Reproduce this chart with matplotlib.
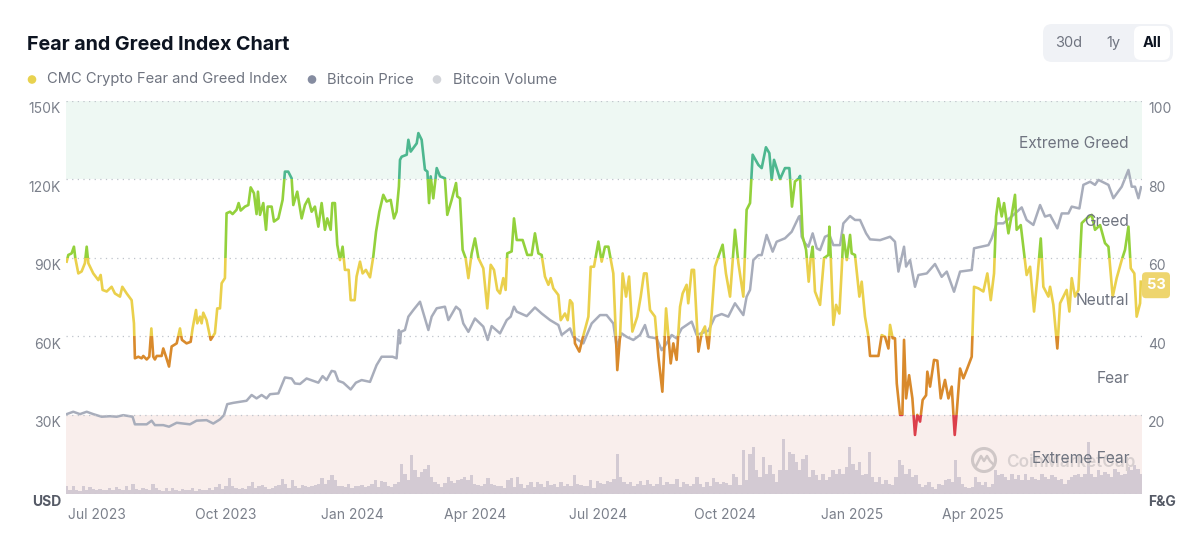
import numpy as np
import matplotlib
matplotlib.use("Agg")
import matplotlib.pyplot as plt
from matplotlib.patches import Circle, FancyBboxPatch, Rectangle
from matplotlib.transforms import ScaledTranslation

plt.rcParams["font.family"] = ["Inter", "DejaVu Sans"]

# x axis is days counted from the Jul 2023 label
tick_days = [3.6, 97.8, 189.8, 279.6, 369.3, 462, 554.7, 643]
tick_labels = ["Jul 2023", "Oct 2023", "Jan 2024", "Apr 2024", "Jul 2024", "Oct 2024", "Jan 2025", "Apr 2025"]

price_ticks = [0, 30, 60, 90, 120, 150]
price_labels = ["USD", "30K", "60K", "90K", "120K", "150K"]
fg_ticks = [0, 20, 40, 60, 80, 100]
fg_labels = ["F&G", "20", "40", "60", "80", "100"]

zone_names = ["Extreme Greed", "Greed", "Neutral", "Fear", "Extreme Fear"]
zone_label_values = [89.0, 69.2, 49.2, 29.2, 9.0]
zone_edges = [(80, 101), (60, 80), (40, 60), (20, 40), (0, 20)]
zone_colors = ["#4db78f", "#93d13c", "#ead04c", "#d98a2c", "#dc3f4b"]

fg_days = [
    -18.5, -17.3, -14.9, -13.2, -12.2, -10.0, -7.6, -5.2, -3.9, -2.7, 0.9, 4.6, 6.3, 7.7, 10.7, 14.3, 16.7, 20.4, 22.1, 25.3,
    28.9, 30.6, 31.3, 33.8, 36.2, 37.4, 39.9, 41.8, 43.3, 44.7, 45.9, 47.2, 50.8, 52.0, 54.0, 56.2, 58.1, 61.8, 64.2, 65.6,
    69.0, 72.0, 73.4, 75.9, 76.8, 78.8, 80.0, 81.2, 83.6, 86.6, 89.7, 91.4, 93.4, 94.6, 97.0, 98.2, 100.7, 102.6, 105.5, 107.0,
    108.5, 111.6, 114.1, 115.8, 118.2, 120.1, 121.1, 122.6, 125.0, 127.0, 128.2, 131.1, 132.8, 136.0, 139.1, 140.8, 143.2, 145.7, 146.9, 149.8,
    153.0, 155.4, 157.9, 160.3, 162.7, 165.2, 167.6, 170.0, 171.7, 174.2, 175.4, 177.3, 179.0, 181.0, 182.9, 184.6, 187.3, 188.8, 191.7, 193.1,
    195.6, 197.5, 199.9, 202.9, 205.3, 207.3, 209.7, 212.6, 215.0, 218.0, 220.4, 222.3, 224.0,
    224.8, 226.0, 229.7, 230.9, 232.6, 237.0, 238.2, 240.6, 243.0, 244.8, 246.0, 247.2, 249.1, 251.6, 254.0, 257.6, 259.3, 262.5, 265.7, 266.6,
    268.6, 270.5, 272.7, 274.7, 277.1, 279.5, 282.0, 285.6, 288.5, 291.0, 293.4, 295.8, 297.8, 300.2, 301.9, 303.1, 306.3, 308.0, 310.0, 314.3,
    317.7, 320.9, 323.3, 325.8, 328.2, 330.6, 333.1, 334.8, 336.7, 340.4, 342.1, 345.2, 347.2, 348.9, 350.6, 352.5, 355.7, 358.1, 362.3, 364.0,
    366.4, 369.6, 372.0, 374.4, 376.9, 380.5, 383.4, 385.4, 387.3, 389.8, 392.0, 394.4, 398.0, 400.5, 402.9, 404.8, 407.3, 410.9, 413.4, 416.3,
    419.0, 422.4, 424.3, 426.7, 429.2, 431.1, 434.0, 435.2, 437.7, 439.4, 442.6, 445.0, 447.4, 449.9, 452.3, 454.7, 457.2, 460.3, 462.7, 465.7,
    469.3, 471.8, 475.4, 477.8, 480.3, 482.2, 486.4, 488.8, 491.9, 494.4, 496.1, 497.8, 502.2, 505.8, 509.0, 510.9, 513.1, 516.0,
    516.8, 518.7, 521.2, 523.1, 524.6, 526.0, 527.7, 531.4, 534.3, 537.5, 538.2, 539.2, 541.1, 543.1, 545.5, 547.2, 548.4, 550.9, 553.3, 554.5,
    556.9, 560.1, 561.8, 564.2, 566.7, 567.9, 574.0, 576.4, 578.8, 581.3, 582.5, 584.4, 586.1, 587.4, 589.8, 591.5, 592.7, 594.2, 596.4, 598.8,
    600.7, 602.4, 604.4, 606.3, 608.8, 609.7, 611.7, 614.6, 617.0, 619.5, 622.6, 625.1, 627.5, 629.7, 631.2, 633.6, 636.0, 638.4, 642.1, 643.8,
    647.0, 650.6, 653.5, 656.0, 658.4, 659.9, 661.6, 664.0, 665.7, 668.9, 671.3, 673.7, 674.9, 677.9, 680.3, 682.2, 684.7, 687.6, 690.0, 692.5,
    694.4, 698.1, 699.3, 701.7, 704.6, 706.6, 711.4, 713.4, 715.1, 717.5, 720.0, 722.4, 726.0, 729.7, 732.1, 735.8, 739.4, 741.9, 745.0, 747.9,
    751.6, 754.0, 756.5, 758.2, 760.8, 762.5, 765.0, 765.5,
]
fg_values = [
    59.0, 60.7, 61.1, 62.8, 59.9, 56.0, 56.5, 58.6, 62.8, 58.6, 56.0, 54.3, 55.6, 51.8, 51.4, 52.6, 50.9, 50.1, 52.6, 50.9,
    49.2, 43.3, 34.4, 34.8, 34.4, 35.0, 34.1, 34.8, 42.0, 34.8, 34.1, 35.0, 35.0, 36.9, 34.8, 32.3, 37.4, 38.2, 42.0, 39.1,
    38.2, 38.6, 42.0, 46.7, 43.3, 45.0, 43.3, 46.0, 44.1, 39.1, 40.8, 47.1, 47.1, 53.5, 54.8, 71.3, 71.7, 71.1, 72.2, 73.9,
    72.0, 73.0, 73.4, 77.9, 76.4, 71.1, 76.8, 70.9, 73.9, 67.1, 73.0, 73.0, 69.2, 70.0, 74.7, 81.9, 81.9, 80.2, 73.4, 76.8,
    70.0, 73.4, 75.0, 71.7, 73.0, 67.9, 73.9, 67.1, 70.0, 67.1, 73.9, 73.9, 63.3, 59.4, 62.8, 56.9, 56.9, 49.2, 49.2, 55.2,
    59.0, 56.0, 56.9, 55.0, 60.3, 66.6, 71.7, 76.0, 74.3, 74.7, 70.0, 71.7, 78.1,
    84.9, 85.7, 86.2, 90.0, 87.0, 89.1, 91.7, 90.0, 82.4, 81.9, 73.9, 80.7, 75.1, 82.8, 80.7, 80.2, 70.9, 74.7, 79.0, 75.6,
    75.1, 62.0, 59.9, 54.8, 61.1, 64.9, 59.9, 57.3, 47.1, 58.2, 56.9, 51.8, 50.9, 54.8, 51.8, 61.1, 61.6, 70.0, 64.5, 64.5,
    60.7, 60.7, 66.2, 61.1, 60.7, 55.2, 53.1, 54.8, 52.2, 50.5, 44.1, 45.8, 44.1, 49.2, 48.4, 38.2, 36.1, 39.5, 45.0, 57.7,
    57.7, 64.1, 59.0, 62.8, 62.8, 56.0, 31.4, 39.9, 56.0, 50.1, 55.2, 41.2, 45.0, 50.1, 56.0, 56.0, 46.7, 45.0, 34.8, 25.9,
    47.1, 33.1, 38.2, 34.0, 47.5, 50.9, 53.1, 48.4, 56.9, 56.9, 36.1, 40.8, 42.5, 36.9, 45.8, 57.7, 60.3, 63.3, 56.0, 50.1,
    67.1, 58.6, 50.1, 72.2, 73.9, 86.2, 83.6, 82.8, 88.1, 86.6, 79.8, 84.9, 80.0, 82.8, 82.8, 73.0, 79.4, 80.2,
    80.8, 65.4, 62.0, 53.9, 59.9, 62.8, 51.4, 48.0, 59.9, 60.7, 67.9, 60.3, 42.9, 48.0, 45.8, 56.9, 65.8, 59.4, 65.8, 61.1,
    60.7, 50.1, 53.9, 45.0, 39.9, 35.0, 35.0, 40.3, 39.9, 36.9, 42.9, 39.5, 39.5, 28.0, 20.0, 20.0, 39.1, 24.2, 30.1, 24.2,
    14.9, 20.0, 18.3, 23.8, 25.0, 31.0, 27.2, 34.0, 33.8, 24.2, 28.9, 24.2, 27.2, 14.9, 20.8, 31.8, 29.3, 31.4, 34.8, 52.6,
    52.2, 51.4, 56.0, 49.2, 56.0, 70.5, 75.1, 70.5, 73.9, 66.2, 70.9, 76.0, 67.1, 68.3, 61.1, 55.6, 57.7, 46.3, 54.8, 64.9,
    52.6, 50.1, 52.6, 48.0, 36.9, 48.4, 51.8, 46.3, 54.8, 50.1, 51.8, 68.8, 70.0, 70.9, 67.1, 68.3, 63.7, 62.8, 50.1, 54.8,
    59.4, 62.0, 67.9, 57.3, 56.0, 45.0, 48.4, 53.9,
]

price_days = [
    -18.5, -13.7, -8.8, -3.9, 0.9, 7.0, 13.1, 18.0, 22.8, 29.6, 31.3, 39.9, 43.5, 45.9, 52.0, 56.2, 61.8, 71.5, 76.3, 83.6,
    88.5, 93.4, 96.3, 98.7, 103.1, 112.8, 116.5, 120.1, 123.8, 127.4, 129.9, 136.0, 140.8, 145.7, 148.1, 151.8, 156.6, 165.2, 168.3, 171.2,
    174.9, 177.3, 179.8, 183.4, 188.8, 192.6, 196.8, 202.9, 207.7, 211.4, 219.4, 222.3, 224.0,
    224.8, 225.5, 228.4, 230.9, 234.5, 239.4, 242.3, 245.5, 247.9, 251.6, 257.6, 260.1, 265.7, 268.6, 271.0, 274.7, 279.5, 285.6, 288.8, 291.7,
    297.8, 302.7, 305.6, 308.0, 310.0, 317.3, 323.3, 328.2, 334.3, 340.4, 342.8, 348.9, 351.3, 358.6, 364.7, 370.8, 375.6, 380.5, 382.9, 386.6,
    390.2, 395.1, 400.0, 403.6, 406.1, 412.1, 415.8, 419.4, 423.1, 426.7, 430.4, 437.7, 441.3, 449.9, 454.7, 459.6, 464.4, 469.3, 475.4, 477.8,
    480.3, 482.7, 486.4, 488.8, 492.4, 496.8, 499.7, 505.8, 510.7, 516.0,
    516.8, 518.0, 520.4, 522.9, 526.0, 529.0, 531.4, 535.0, 538.2, 541.1, 546.0, 548.4, 553.3, 556.9, 560.6, 565.0, 567.9, 575.2, 582.5, 586.1,
    588.6, 592.7, 594.2, 597.1, 600.7, 603.2, 609.3, 615.3, 620.2, 623.9, 629.2, 633.6, 642.1, 643.8, 654.3, 656.7, 660.3, 665.2, 672.5, 678.6,
    682.2, 687.1, 692.0, 695.6, 699.3, 704.6, 707.8, 712.7, 715.1, 720.7, 723.6, 728.5, 732.1, 734.6, 741.9, 745.5, 751.6, 756.5, 758.9, 761.3,
    763.8, 765.7,
]
price_values = [
    30.3, 31.2, 30.3, 31.2, 30.3, 29.3, 29.5, 29.3, 29.9, 29.3, 26.4, 26.4, 27.8, 26.1, 26.1, 25.5, 27.0, 26.4, 27.8, 28.0,
    26.7, 28.3, 29.9, 34.1, 34.6, 35.4, 37.6, 36.3, 37.6, 36.3, 37.9, 38.2, 44.3, 43.9, 42.0, 41.8, 43.9, 42.3, 44.8, 43.3,
    46.8, 46.5, 43.0, 42.3, 39.7, 42.3, 43.3, 42.6, 49.0, 52.2, 52.2, 51.6, 62.4,
    57.3, 61.7, 62.4, 67.5, 70.0, 73.2, 68.1, 62.4, 67.5, 70.7, 71.3, 66.2, 71.3, 70.0, 64.9, 61.7, 66.8, 63.7, 58.6, 63.9,
    61.1, 66.2, 67.5, 71.3, 69.4, 67.7, 71.0, 68.7, 66.2, 64.3, 60.5, 63.0, 59.8, 57.3, 64.9, 68.1, 68.1, 64.9, 56.0, 61.1,
    59.8, 58.6, 60.5, 64.3, 59.8, 59.2, 54.7, 57.3, 60.5, 59.2, 63.0, 65.6, 60.5, 62.1, 67.5, 68.5, 67.5, 72.6, 68.1, 75.1,
    77.7, 89.1, 91.0, 91.0, 98.7, 92.3, 96.1, 97.4, 99.9, 105.7,
    105.9, 98.0, 95.5, 94.2, 99.3, 93.6, 92.9, 98.0, 98.7, 94.8, 94.8, 103.1, 105.9, 104.4, 104.4, 99.3, 97.0, 96.7, 98.0, 96.1,
    84.7, 94.2, 86.6, 89.1, 78.9, 83.4, 84.0, 87.6, 82.7, 84.7, 77.0, 84.7, 85.3, 93.6, 94.8, 97.4, 103.1, 103.1, 106.3, 109.2,
    104.4, 102.5, 110.1, 105.7, 106.3, 101.2, 106.9, 106.9, 109.5, 108.8, 117.8, 119.0, 117.8, 119.7, 117.8, 112.7, 117.1, 123.5, 117.1, 117.1,
    112.7, 116.9,
]

# sampled every 2.4 days, relative units (chart has no volume axis)
btc_volume = [
    22, 12, 24, 10, 8, 24, 12, 20, 14, 10, 14, 10, 12, 16, 12, 20, 14, 12, 22, 10,
    30, 14, 10, 18, 14, 10, 28, 16, 12, 8, 18, 8, 16, 12, 8, 14, 12, 10, 16, 8,
    14, 10, 12, 16, 12, 20, 30, 14, 22, 48, 22, 16, 14, 18, 14, 24, 36, 18, 22, 26,
    20, 14, 18, 22, 26, 44, 28, 16, 40, 22, 18, 26, 22, 20, 24, 26, 28, 48, 30, 40,
    55, 40, 22, 24, 20, 28, 18, 24, 22, 26, 20, 24, 28, 40, 20, 38, 34, 24, 20, 30,
    36, 90, 60, 40, 115, 70, 50, 65, 75, 85,
    50, 35, 28, 20, 32, 50, 38, 32, 40, 45, 50, 40, 55, 28, 26, 22, 30, 48, 30, 26,
    22, 24, 18, 42, 48, 20, 50, 30, 18, 26, 34, 20, 36, 28, 20, 38, 25, 30, 20, 34,
    24, 28, 22, 56, 30, 26, 24, 22, 40, 18, 38, 32, 30, 38, 34, 45, 120, 50, 36, 28,
    36, 24, 30, 38, 26, 42, 28, 22, 30, 50, 26, 34, 30, 28, 44, 20, 34, 30, 24, 28,
    50, 30, 20, 34, 24, 48, 36, 30, 36, 32, 26, 60, 50, 26, 130, 40, 120, 140, 70, 50,
    110, 60, 85, 60, 36, 70, 165, 70, 125,
    120, 95, 70, 105, 115, 50, 70, 55, 40, 60, 40, 50, 70, 60, 75, 60, 80, 140, 90, 70,
    95, 55, 60, 125, 50, 35, 50, 30, 40, 30, 25, 50, 100, 85, 60, 75, 50, 55, 30, 20,
    25, 35, 20, 15, 30, 25, 40, 45, 35, 100, 50, 30, 20, 18, 20, 50, 35, 25, 35, 20,
    30, 70, 55, 60, 50, 40, 60, 45, 55, 40, 60, 40, 50, 45, 40, 60, 50, 45, 55, 50,
    40, 45, 30, 40, 50, 55, 60, 50, 60, 155, 60, 50, 70, 55, 65, 60, 50, 75, 65, 55,
    60, 80, 70, 85, 75, 60,
]
volume_scale = 150 / 1179

current_fg = 53

GREY_TEXT = "#6f7480"
TICK_TEXT = "#7b808b"

fig = plt.figure(figsize=(12, 5.46), dpi=100)
ax = fig.add_axes([66 / 1200, 1 - 493.5 / 546, 1076 / 1200, 393 / 546])
ax_fg = ax.twinx()

# zones, grid, volume and price go on the USD axis
ax.axhspan(120, 150, color="#eef8f3", lw=0, zorder=0)
ax.axhspan(0, 30, color="#f9eeec", lw=0, zorder=0)
volume_days = np.linspace(-18.5, 766, len(btc_volume))
ax.bar(volume_days, np.array(btc_volume) * volume_scale, width=volume_days[1] - volume_days[0],
       color="#d3cad3", lw=0, zorder=1, antialiased=False)
ax.plot(price_days, price_values, color="#a8adbb", lw=1.8, zorder=2, solid_joinstyle="round")

ax.set_xlim(-19, 766.4)
ax.set_ylim(0, 150)
ax_fg.set_ylim(0, 100)

ax.set_yticks(price_ticks)
ax.set_yticklabels(price_labels)
ax.set_xticks(tick_days)
ax.set_xticklabels(tick_labels)
ax_fg.set_yticks(fg_ticks)
ax_fg.set_yticklabels(fg_labels)
ax.tick_params(axis="y", length=0, pad=3.6, labelsize=10, labelcolor=TICK_TEXT)
ax.tick_params(axis="x", length=0, pad=10.5, labelsize=10, labelcolor=TICK_TEXT)
ax_fg.tick_params(axis="y", length=0, pad=4.3, labelsize=10, labelcolor=TICK_TEXT)
ax.grid(axis="y", color="#bfc3cb", lw=0.9, ls=(0, (1, 3.5)), zorder=1)
ax.set_axisbelow(False)
ax.grid(axis="x", visible=False)

# y labels sit just under their grid line
label_shift = ScaledTranslation(0, -1.5 / 100, fig.dpi_scale_trans)
for labels in (ax.get_yticklabels(), ax_fg.get_yticklabels()):
    for lab in labels:
        lab.set_va("top")
        lab.set_transform(lab.get_transform() + label_shift)
    labels[0].set_fontweight("bold")
    labels[0].set_color("#555a66")

for axis in (ax, ax_fg):
    for spine in axis.spines.values():
        spine.set_visible(False)

# index line changes colour with the zone it is in
for (low, high), color in zip(zone_edges, zone_colors):
    line, = ax_fg.plot(fg_days, fg_values, color=color, lw=1.9, zorder=3, solid_joinstyle="round")
    line.set_clip_path(Rectangle((-19, low), 785.4, high - low, transform=ax_fg.transData))

# page furniture in pixel coordinates
page = fig.add_axes([0, 0, 1, 1], zorder=5)
page.set_xlim(0, 1200)
page.set_ylim(546, 0)
page.axis("off")
page.patch.set_alpha(0)

page.text(27, 44.5, "Fear and Greed Index Chart", fontsize=14.2, fontweight="bold", color="#0d1421", va="center")

legend_items = [
    (32, 47, "CMC Crypto Fear and Greed Index", "#e8d24f"),
    (312, 327, "Bitcoin Price", "#858ca0"),
    (437, 453, "Bitcoin Volume", "#d3d5da"),
]
for dot_x, text_x, label, color in legend_items:
    page.add_patch(Circle((dot_x, 79.5), 4.3, color=color, lw=0))
    page.text(text_x, 79.5, label, fontsize=10.6, color=GREY_TEXT, va="center")

page.add_patch(FancyBboxPatch((1043, 24), 130, 38, boxstyle="round,pad=0,rounding_size=9",
                              fc="#f0f2f6", ec="#f0f2f6", lw=0))
page.add_patch(FancyBboxPatch((1134, 26), 36, 34, boxstyle="round,pad=0,rounding_size=7",
                              fc="white", ec="white", lw=0))
page.text(1069, 43, "30d", fontsize=10.5, color=GREY_TEXT, ha="center", va="center")
page.text(1113, 43, "1y", fontsize=10.5, color=GREY_TEXT, ha="center", va="center")
page.text(1152, 43, "All", fontsize=10.5, fontweight="bold", color="#0d1421", ha="center", va="center")

# watermark
page.add_patch(Circle((984, 460), 11.5, fc="none", ec="#cfc7c7", lw=2.2))
page.plot([976, 981, 984, 987, 990, 994], [466, 456, 461, 456, 461, 465], color="#cfc7c7", lw=1.8)
page.text(1006, 462, "CoinMarketCap", fontsize=12.3, fontweight="semibold", color="#d8d0d0", va="center")

for name, value in zip(zone_names, zone_label_values):
    page.text(1129, 493.5 - value * 3.93, name, fontsize=11.2, color=GREY_TEXT, ha="right", va="center")

# current value badge
badge_y = 493.5 - current_fg * 3.93
page.add_patch(FancyBboxPatch((1142, badge_y - 13), 28, 26, boxstyle="round,pad=0,rounding_size=4",
                              fc="#eed56e", ec="#eed56e", lw=0))
page.text(1156.5, badge_y, str(current_fg), fontsize=10.5, fontweight="bold", color="white", ha="center", va="center")

fig.savefig("out.png", dpi=100)
